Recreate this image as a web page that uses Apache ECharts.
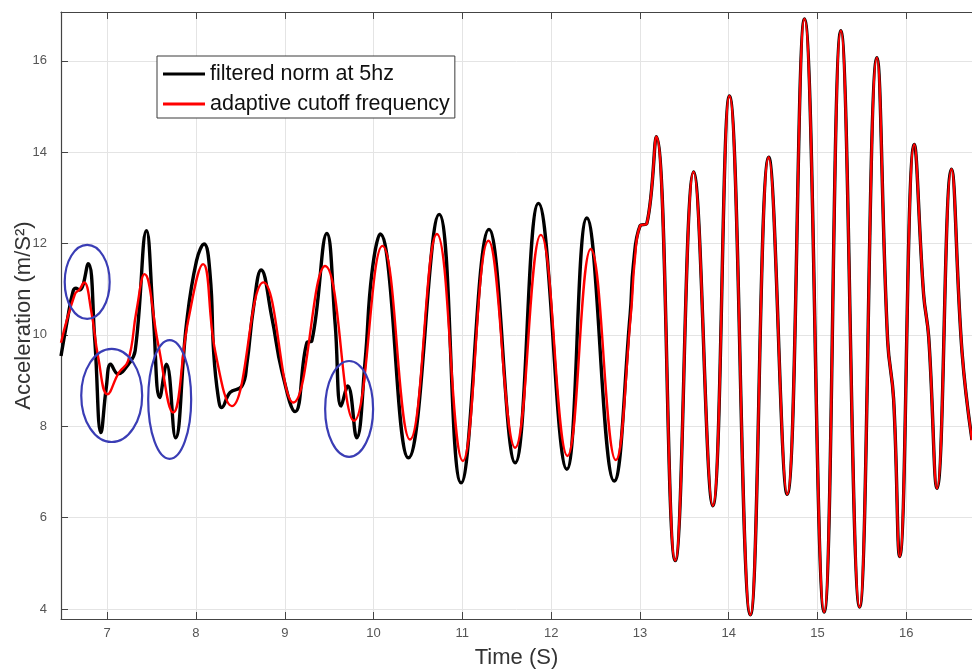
<!DOCTYPE html>
<html><head><meta charset="utf-8">
<script src="https://cdn.jsdelivr.net/npm/echarts@6/dist/echarts.min.js"></script>
<style>html,body{margin:0;padding:0;background:#fff}#c{width:972px;height:671px}</style>
</head><body><div id="c"></div>
<script>
// ---- data ----
const seriesNames = ['filtered norm at 5hz', 'adaptive cutoff frequency'];

const blackX = [6.48, 6.55, 6.617, 6.65, 6.69, 6.786, 6.86, 6.93, 6.99, 7.04, 7.12, 7.24, 7.315, 7.443, 7.518, 7.593, 7.668, 7.77, 7.893, 8.006, 8.092, 8.16, 8.20, 8.25, 8.29, 8.385, 8.517, 8.573, 8.648, 8.734, 8.855, 8.967, 9.117, 9.249, 9.305, 9.474, 9.568, 9.635, 9.71, 9.81, 9.905, 9.98, 10.074, 10.393, 10.739, 10.986, 11.30, 11.595, 11.857, 12.177, 12.402, 12.71, 12.89, 12.927, 13.002, 13.078, 13.184, 13.398, 13.605, 13.82, 14.008, 14.244, 14.451, 14.658, 14.853, 15.075, 15.263, 15.474, 15.669, 15.79, 15.857, 15.925, 16.09, 16.195, 16.252, 16.346, 16.508, 16.628, 16.74];
const blackY = [9.54, 10.31, 10.96, 11.02, 10.98, 11.56, 9.9, 7.86, 8.85, 9.36, 9.15, 9.36, 9.65, 12.28, 10.45, 8.63, 9.36, 7.75, 10.24, 11.62, 11.99, 11.3, 9.6, 8.65, 8.41, 8.74, 8.88, 9.36, 10.6, 11.42, 10.38, 9.21, 8.32, 9.83, 9.87, 12.22, 10.23, 8.44, 8.88, 7.75, 9.43, 11.33, 12.21, 7.31, 12.64, 6.76, 12.31, 7.20, 12.88, 7.06, 12.56, 6.80, 10.45, 11.55, 12.39, 12.44, 14.34, 5.06, 13.57, 6.26, 15.23, 3.87, 13.89, 6.51, 16.92, 3.93, 16.66, 4.04, 16.07, 9.87, 8.6, 5.15, 14.17, 10.89, 9.96, 6.64, 13.63, 9.62, 7.70];

const redX = [6.48, 6.636, 6.69, 6.74, 6.82, 6.90, 7.004, 7.13, 7.236, 7.33, 7.42, 7.574, 7.743, 7.912, 8.08, 8.216, 8.404, 8.76, 9.098, 9.455, 9.78, 10.10, 10.41, 10.713, 11.006, 11.294, 11.595, 11.884, 12.184, 12.447, 12.728, 12.90, 12.94, 13.002, 13.078, 13.184, 13.398, 13.605, 13.82, 14.008, 14.244, 14.451, 14.658, 14.853, 15.075, 15.263, 15.474, 15.669, 15.79, 15.857, 15.925, 16.09, 16.195, 16.252, 16.346, 16.508, 16.628, 16.74];
const redY = [9.83, 10.89, 11.0, 11.15, 10.53, 9.5, 8.70, 9.17, 9.43, 10.53, 11.33, 9.80, 8.30, 10.31, 11.55, 9.65, 8.44, 11.15, 8.52, 11.51, 8.12, 11.95, 7.71, 12.21, 7.24, 12.06, 7.53, 12.19, 7.35, 11.88, 7.26, 10.5, 11.6, 12.39, 12.44, 14.34, 5.06, 13.57, 6.26, 15.23, 3.87, 13.89, 6.51, 16.92, 3.93, 16.66, 4.04, 16.07, 9.87, 8.6, 5.15, 14.17, 10.89, 9.96, 6.64, 13.63, 9.62, 7.70];

const xTickLabels = [7, 8, 9, 10, 11, 12, 13, 14, 15, 16];
const yTickLabels = [4, 6, 8, 10, 12, 14, 16];
const xRange = [6.48, 16.74];
const yRange = [3.78, 17.07];

// blue annotation ellipses (centre and radii in data units)
const ellipseCX = [6.775, 7.051, 7.704, 9.725];
const ellipseCY = [11.16, 8.675, 8.587, 8.379];
const ellipseRX = [0.253, 0.343, 0.242, 0.27];
const ellipseRY = [0.81, 1.02, 1.30, 1.05];

// ---- build chart ----
const zip = (a, b) => a.map((v, i) => [v, b[i]]);
const FONT = "'Liberation Sans', Arial, sans-serif";
const tickFmt = list => v => (list.some(t => Math.abs(t - v) < 1e-6) ? String(Math.round(v)) : '');

const chart = echarts.init(document.getElementById('c'), null, { renderer: 'canvas' });
chart.setOption({
  backgroundColor: '#ffffff',
  animation: false,
  grid: { left: 61, right: 0, top: 12, bottom: 52, containLabel: false, outerBoundsMode: 'none' },
  legend: {
    data: seriesNames,
    orient: 'vertical',
    left: 157, top: 56,
    padding: [7, 5, 3, 6],
    itemGap: 8,
    icon: 'rect',
    itemWidth: 42, itemHeight: 3,
    backgroundColor: '#ffffff',
    borderColor: '#3a3a3a', borderWidth: 1,
    textStyle: { fontFamily: FONT, fontSize: 21.5, color: '#111', lineHeight: 22 }
  },
  xAxis: [{
    type: 'value', min: xRange[0], max: xRange[1], splitNumber: 10,
    name: 'Time (S)', nameLocation: 'middle', nameGap: 28, nameMoveOverlap: false,
    nameTextStyle: { fontFamily: FONT, fontSize: 22, color: '#333', verticalAlign: 'top' },
    axisLine: { show: true, onZero: false, lineStyle: { color: '#444', width: 1.2 } },
    axisTick: { show: true, inside: true, length: 7, lineStyle: { color: '#444' } },
    axisLabel: { fontFamily: FONT, fontSize: 13, color: '#555', margin: 8, formatter: tickFmt(xTickLabels), showMinLabel: false, showMaxLabel: false },
    splitLine: { show: true, lineStyle: { color: '#e4e4e4', width: 1 } }
  }, {
    type: 'value', position: 'top', min: xRange[0], max: xRange[1], splitNumber: 10,
    axisLine: { show: true, onZero: false, lineStyle: { color: '#444', width: 1.2 } },
    axisTick: { show: true, inside: true, length: 7, lineStyle: { color: '#444' } },
    axisLabel: { show: false },
    splitLine: { show: false }
  }],
  yAxis: {
    type: 'value', min: yRange[0], max: yRange[1], splitNumber: 7,
    name: 'Acceleration (m/S²)', nameLocation: 'middle', nameGap: 26, nameRotate: 90, nameMoveOverlap: false,
    nameTextStyle: { fontFamily: FONT, fontSize: 22, color: '#333' },
    axisLine: { show: true, onZero: false, lineStyle: { color: '#444', width: 1.2 } },
    axisTick: { show: true, inside: true, length: 7, lineStyle: { color: '#444' } },
    axisLabel: { fontFamily: FONT, fontSize: 13, color: '#555', margin: 14, formatter: tickFmt(yTickLabels), showMinLabel: false, showMaxLabel: false },
    splitLine: { show: true, lineStyle: { color: '#e4e4e4', width: 1 } }
  },
  series: [{
    name: seriesNames[0], type: 'line', xAxisIndex: 0,
    data: zip(blackX, blackY), symbol: 'none', smooth: 0.45,
    lineStyle: { color: '#000000', width: 3.4 }, itemStyle: { color: '#000000' }, z: 2
  }, {
    name: seriesNames[1], type: 'line', xAxisIndex: 0,
    data: zip(redX, redY), symbol: 'none', smooth: 0.45,
    lineStyle: { color: '#ff0000', width: 2.4 }, itemStyle: { color: '#ff0000' }, z: 3
  }, {
    name: 'annotations', type: 'custom', xAxisIndex: 0,
    data: ellipseCX.map((cx, i) => [cx, ellipseCY[i], ellipseRX[i], ellipseRY[i]]),
    encode: { x: 0, y: 1 },
    renderItem: (params, api) => {
      const c = api.coord([api.value(0), api.value(1)]);
      const s = api.size([api.value(2), api.value(3)]);
      return { type: 'ellipse', shape: { cx: c[0], cy: c[1], rx: s[0], ry: s[1] },
               style: { fill: 'none', stroke: '#3a3db5', lineWidth: 2.2 } };
    },
    z: 4, silent: true
  }]
});
</script>
</body></html>
